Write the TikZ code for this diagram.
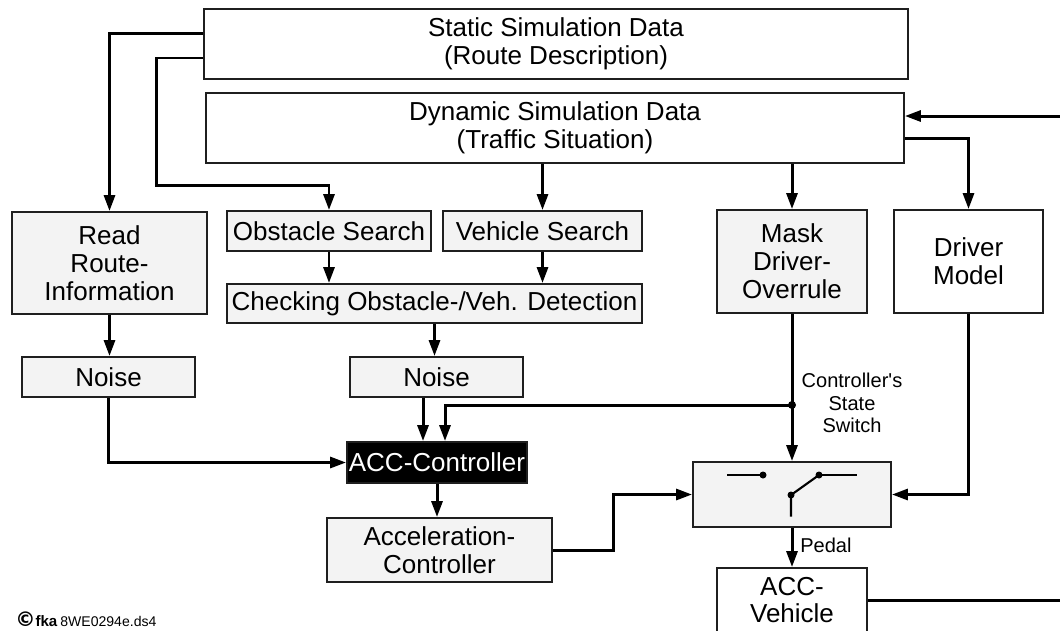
\documentclass[tikz,border=0pt]{standalone}
\usepackage{fontspec}
\setmainfont{Liberation Sans}
\newfontfamily\dejavufont{DejaVu Sans}
\usetikzlibrary{arrows.meta,calc}
\newcommand{\mainsz}{\fontsize{14.8}{15.9}\selectfont}
\newcommand{\smallsz}{\fontsize{11.4}{12.8}\selectfont}
\definecolor{boxgray}{HTML}{F3F3F3}
\begin{document}
\begin{tikzpicture}[x=0.02cm,y=-0.02cm,
  box/.style={draw=black!88,line width=1.1pt,fill=boxgray,inner sep=0pt,align=center,font=\mainsz},
  wbox/.style={box,fill=white},
  conn/.style={line width=1.7pt,-{Triangle[length=0.32cm,width=0.22cm]}},
  plain/.style={line width=1.7pt},
  swl/.style={line width=1.2pt}]
\useasboundingbox (0,0) rectangle (1060,630);
\clip (0,0) rectangle (1060,630);

% nodes
\node[wbox,minimum width=14.08cm,minimum height=1.4cm] (static) at (556,44) {Static Simulation Data\\(Route Description)};
\node[wbox,minimum width=13.96cm,minimum height=1.4cm] (dynamic) at (555,128) {Dynamic Simulation Data\\(Traffic Situation)};
\node[box,minimum width=3.9cm,minimum height=2.04cm] (read) at (109.5,263) {Read\\Route-\\Information};
\node[box,minimum width=4.08cm,minimum height=0.8cm] (obst) at (329,231) {Obstacle Search};
\node[box,minimum width=3.98cm,minimum height=0.8cm] (veh) at (542.5,231) {Vehicle Search};
\node[box,minimum width=8.3cm,minimum height=0.78cm] (check) at (434.5,303.5) {Checking Obstacle-/Veh. Detection};
\node[box,minimum width=3.46cm,minimum height=0.8cm] (noise1) at (108.5,377) {Noise};
\node[box,minimum width=3.46cm,minimum height=0.8cm] (noise2) at (436.5,377) {Noise};
\node[box,fill=black,text=white,minimum width=3.6cm,minimum height=0.82cm] (acc) at (437,462.5) {ACC-Controller};
\node[box,minimum width=4.5cm,minimum height=1.28cm] (accel) at (439.5,550) {Acceleration-\\Controller};
\node[box,minimum width=3.96cm,minimum height=1.3cm] (switch) at (792,494.5) {};
\node[box,minimum width=3.0cm,minimum height=2.06cm] (mask) at (792,261.5) {Mask\\Driver-\\Overrule};
\node[wbox,minimum width=2.98cm,minimum height=2.06cm] (driver) at (968.5,261.5) {Driver\\Model};
\node[wbox,minimum width=3.0cm,minimum height=1.28cm] (accveh) at (792,600) {ACC-\\Vehicle};

% switch symbol
\coordinate (sc) at (switch.center);
\draw[swl] ($(sc)+(-65,-19.5)$) -- ($(sc)+(-29,-19.5)$);
\fill ($(sc)+(-29,-19.5)$) circle (0.07cm);
\draw[swl] ($(sc)+(27,-19.5)$) -- ($(sc)+(65,-19.5)$);
\fill ($(sc)+(27,-19.5)$) circle (0.07cm);
\draw[swl] ($(sc)+(-1,22)$) -- ($(sc)+(-1,0.5)$) -- ($(sc)+(27,-19.5)$);
\fill ($(sc)+(-1,0.5)$) circle (0.07cm);

% connectors
\draw[conn] ([yshift=0.22cm]static.west) -| (read.north);
\draw[conn] ([yshift=-0.28cm]static.west) -- ++(-47,0) -- ++(0,127) -| (obst.north);
\draw[conn] (veh.north |- dynamic.south) -- (veh.north);
\draw[conn] (mask.north |- dynamic.south) -- (mask.north);
\draw[conn] ([yshift=-0.2cm]dynamic.east) -| (driver.north);
\coordinate (in) at (1060,116);
\draw[conn] (in) -- (in -| dynamic.east);
\draw[conn] (obst.south) -- (obst.south |- check.north);
\draw[conn] (veh.south) -- (veh.south |- check.north);
\draw[conn] (read.south) -- (read.south |- noise1.north);
\draw[conn] (check.south) -- (check.south |- noise2.north);
\draw[conn] (noise1.south) |- (acc.west);
\coordinate (a1) at ($(acc.north)+(-14,0)$);
\draw[conn] (a1 |- noise2.south) -- (a1);
\coordinate (j) at (792,405);
\draw[plain] (mask.south) -- (j);
\draw[conn] (j) -- (switch.north);
\coordinate (a2) at ($(acc.north)+(8,0)$);
\draw[conn] (j) -| (a2);
\fill (j) circle (0.08cm);
\draw[conn] (acc.south) -- (acc.south |- accel.north);
\draw[conn] (accel.east) -- ++(61,0) |- (switch.west);
\draw[conn] (driver.south) |- (switch.east);
\draw[conn] (switch.south) -- (accveh.north);
\node[anchor=west,font=\smallsz,inner sep=0pt] (pedal) at (800,545) {Pedal};
\coordinate (out) at (1060,600);
\draw[plain] (accveh.east) -- (out);

% labels
\node[font=\smallsz,align=center,inner sep=0pt] (cssw) at (852,403) {Controller\textquotesingle s\\State\\Switch};
\node[anchor=west,inner sep=0pt] (copy) at (15,619) {{\dejavufont\fontsize{11.5}{12}\selectfont\bfseries ©}{\fontsize{8.6}{9}\selectfont\bfseries fka}\,{\fontsize{8}{9}\selectfont 8WE0294e.ds4}};
\end{tikzpicture}
\end{document}
